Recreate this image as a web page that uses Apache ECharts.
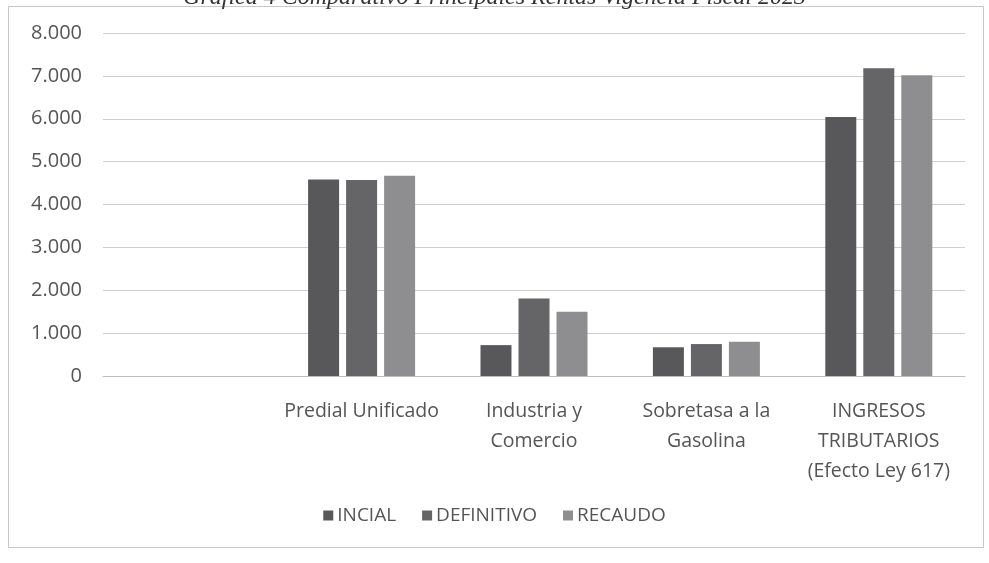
<!DOCTYPE html>
<html>
<head>
<meta charset="utf-8">
<script src="https://cdn.jsdelivr.net/npm/echarts@6/dist/echarts.min.js"></script>
<style>
html,body{margin:0;padding:0;background:#fff;}
#chart{width:989px;height:563px;}
</style>
</head>
<body>
<div id="chart"></div>
<script>
var categories = ['', 'Predial Unificado', 'Industria y\nComercio', 'Sobretasa a la\nGasolina', 'INGRESOS\nTRIBUTARIOS\n(Efecto Ley 617)'];
var seriesNames = ['INCIAL', 'DEFINITIVO', 'RECAUDO'];
var inicial = [null, 4585, 720, 670, 6040];
var definitivo = [null, 4570, 1810, 745, 7180];
var recaudo = [null, 4670, 1500, 800, 7015];
var yTicks = [0, 1000, 2000, 3000, 4000, 5000, 6000, 7000, 8000];
var titleText = 'Gráfica 4 Comparativo Principales Rentas Vigencia Fiscal 2023';

var colors = ['#58585a', '#656567', '#8e8e90'];
var font = '"Open Sans", "Noto Sans", sans-serif';

var chart = echarts.init(document.getElementById('chart'), null, {renderer: 'canvas'});
function fmt(v){ return String(v).replace(/\B(?=(\d{3})+(?!\d))/g, '.'); }

var dataSets = [inicial, definitivo, recaudo];
chart.setOption({
  animation: false,
  color: colors,
  graphic: [
    {type: 'rect', shape: {x: 8.5, y: 6.5, width: 975, height: 541}, style: {fill: 'none', stroke: '#c8c8c8', lineWidth: 1}},
    {type: 'text', left: 'center', top: -14, style: {text: titleText, font: 'italic 24px "Liberation Serif", serif', fill: '#333'}}
  ],
  grid: {left: 103, right: 24, top: 33, bottom: 187},
  legend: {
    data: seriesNames,
    bottom: 33,
    left: 'center',
    icon: 'rect',
    itemWidth: 10,
    itemHeight: 10,
    itemGap: 26,
    textStyle: {fontFamily: font, fontSize: 19, color: '#555', padding: [0, 0, 0, -1]}
  },
  xAxis: {
    type: 'category',
    data: categories,
    axisLine: {show: true, lineStyle: {color: '#bdbdbd', width: 1}},
    axisTick: {show: false},
    axisLabel: {fontFamily: font, fontSize: 19.5, color: '#555', lineHeight: 30, margin: 20, interval: 0}
  },
  yAxis: {
    type: 'value',
    min: yTicks[0],
    max: yTicks[yTicks.length - 1],
    interval: 1000,
    axisLine: {show: false},
    axisTick: {show: false},
    splitLine: {lineStyle: {color: '#cfcfcf', width: 1}},
    axisLabel: {fontFamily: font, fontSize: 20, color: '#555', margin: 21, formatter: fmt}
  },
  series: seriesNames.map(function(n, i){
    return {name: n, type: 'bar', data: dataSets[i], barWidth: 31, barGap: '22.6%', itemStyle: {color: colors[i]}};
  })
});
</script>
</body>
</html>
